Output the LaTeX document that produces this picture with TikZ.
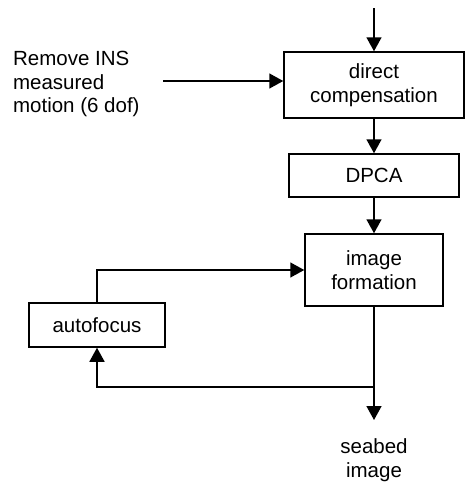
\documentclass[tikz,border=0pt]{standalone}
\usepackage{fontspec}
\setmainfont{Liberation Sans}
\usetikzlibrary{arrows.meta}

\begin{document}
\begin{tikzpicture}[x=1pt,y=-1pt,line width=1.5pt,
  every node/.style={font=\fontsize{20.5}{23.6}\selectfont, align=center},
  block/.style={draw, inner sep=0pt},
  flow/.style={-{Triangle[length=14pt,width=15pt]}}]
\useasboundingbox (0,0) rectangle (465,483);
% processing chain
\node[block, minimum width=180, minimum height=66] (comp) at (374,85) {direct\\compensation};
\node[block, minimum width=170, minimum height=43] (dpca) at (374,175.5) {DPCA};
\node[block, minimum width=138, minimum height=72] (form) at (374,270) {image\\formation};
\node[block, minimum width=136, minimum height=44] (auto) at (97,325) {autofocus};
\node[align=left, anchor=west] (ins) at (9,84) {Remove INS\\measured\\motion (6 dof)};
\node (bed) at (374,460) {seabed\\image};
\coordinate (in) at (374,8);
\coordinate (feed) at (163,81);
\coordinate (split) at (374,387);
\coordinate (out) at (374,420);
% connectors
\draw[flow] (in) -- (comp);
\draw[flow] (feed) -- (feed -| comp.west);
\foreach \a/\b in {comp/dpca, dpca/form} \draw[flow] (\a) -- (\b);
\draw (form) -- (split);
\draw[flow] (split) -- (out);
\draw[flow] (split) -| (auto);
\draw[flow] (auto) |- (form);
\end{tikzpicture}
\end{document}
